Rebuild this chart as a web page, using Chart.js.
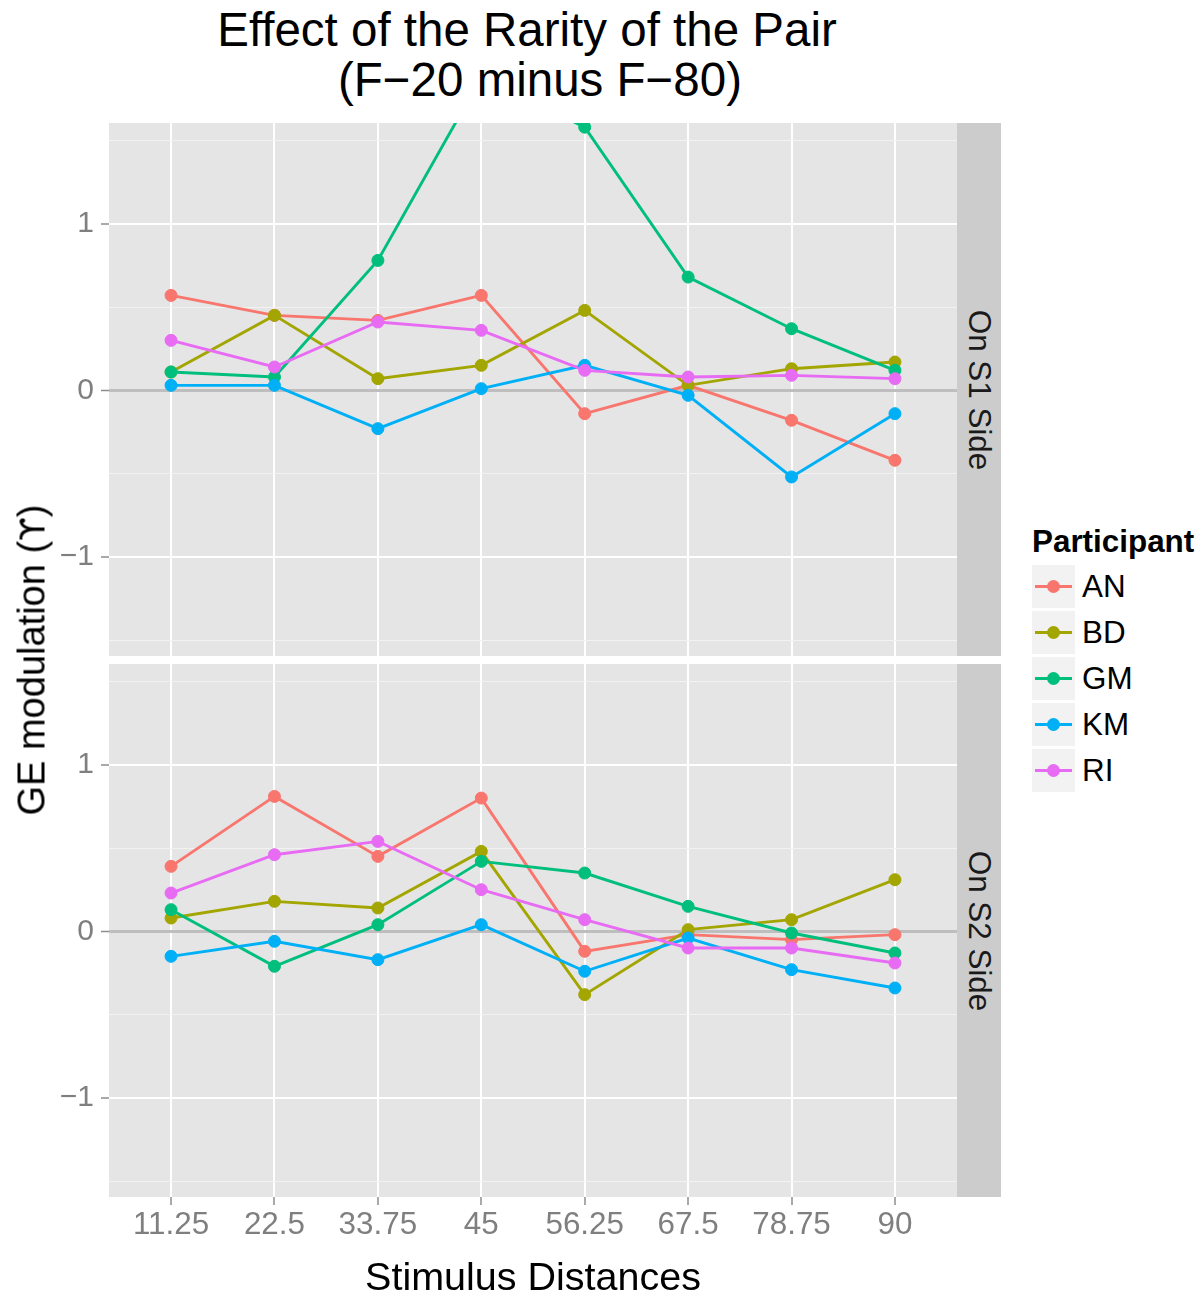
<!DOCTYPE html>
<html>
<head>
<meta charset="utf-8">
<title>Effect of the Rarity of the Pair</title>
<script src="https://cdn.jsdelivr.net/npm/chart.js@4.4.1/dist/chart.umd.min.js"></script>
<style>
  body { margin: 0; background: #ffffff; }
  #fig { position: relative; width: 1202px; height: 1295px; overflow: hidden;
         font-family: "Liberation Sans", Arial, Helvetica, sans-serif; color: #000; }
  .abs { position: absolute; white-space: nowrap; }
  .title { font-size: 47.5px; line-height: 47.5px; transform: translateX(-50%); }
  .strip { position: absolute; left: 957px; width: 44px; background: #CCCCCC; }
  .strip span { position: absolute; left: 50%; top: 50%; transform: translate(-50%, -50%) rotate(90deg);
                font-size: 31.4px; line-height: 31.4px; color: #1A1A1A; white-space: nowrap; }
  .key { position: absolute; left: 1032px; width: 43px; height: 43px; background: #F2F2F2; }
  .key .ln { position: absolute; left: 3px; width: 37px; top: 20px; height: 3px; }
  .key .pt { position: absolute; left: 15px; top: 15px; width: 13px; height: 13px; border-radius: 50%; }
  .klab { position: absolute; left: 1082px; height: 43px; line-height: 43px; font-size: 31.4px; }
  .sym { font-family: "DejaVu Sans", sans-serif; font-size: 34px; }
  canvas { position: absolute; left: 0; }
</style>
</head>
<body>
<div id="fig">
  <div class="abs title" style="left:527px;top:6px;">Effect of the Rarity of the Pair</div>
  <div class="abs title" style="left:540px;top:56px;">(F−20 minus F−80)</div>

  <canvas id="s1" width="957" height="533" style="top:123px;"></canvas>
  <canvas id="s2" width="957" height="593" style="top:664px;"></canvas>

  <div class="strip" style="top:123px;height:533px;"><span>On S1 Side</span></div>
  <div class="strip" style="top:664px;height:533px;"><span>On S2 Side</span></div>

  <div class="abs" style="left:32px;top:660px;font-size:38px;line-height:38px;transform:translate(-50%,-50%) rotate(-90deg);">GE modulation (<span class="sym">ϒ</span>)</div>
  <div class="abs" style="left:533px;top:1257px;font-size:39.5px;line-height:39.5px;transform:translateX(-50%);">Stimulus Distances</div>

  <div class="abs" style="left:1032px;top:526px;font-size:31.4px;line-height:31.4px;font-weight:bold;">Participant</div>
  <div id="legend"></div>
</div>

<script>
// Stimulus distance categories along the x axis
const distances = ['11.25', '22.5', '33.75', '45', '56.25', '67.5', '78.75', '90'];
const participants = ['AN', 'BD', 'GM', 'KM', 'RI'];
const colors = ['#F8766D', '#A3A500', '#00BF7D', '#00B0F6', '#E76BF3'];

// GE modulation, facet "On S1 Side"
const s1AN = [0.57, 0.45, 0.42, 0.57, -0.14, 0.03, -0.18, -0.42];
const s1BD = [0.11, 0.45, 0.07, 0.15, 0.48, 0.03, 0.13, 0.17];
const s1GM = [0.11, 0.08, 0.78, 1.88, 1.58, 0.68, 0.37, 0.12];
const s1KM = [0.03, 0.03, -0.23, 0.01, 0.15, -0.03, -0.52, -0.14];
const s1RI = [0.30, 0.14, 0.41, 0.36, 0.12, 0.08, 0.09, 0.07];

// GE modulation, facet "On S2 Side"
const s2AN = [0.39, 0.81, 0.45, 0.80, -0.12, -0.02, -0.05, -0.02];
const s2BD = [0.08, 0.18, 0.14, 0.48, -0.38, 0.01, 0.07, 0.31];
const s2GM = [0.13, -0.21, 0.04, 0.42, 0.35, 0.15, -0.01, -0.13];
const s2KM = [-0.15, -0.06, -0.17, 0.04, -0.24, -0.04, -0.23, -0.34];
const s2RI = [0.23, 0.46, 0.54, 0.25, 0.07, -0.10, -0.10, -0.19];

const yTickValues = [-1.5, -1, -0.5, 0, 0.5, 1, 1.5];

Chart.defaults.font.family = '"Liberation Sans", Arial, Helvetica, sans-serif';
Chart.defaults.font.size = 30;
Chart.defaults.color = '#7F7F7F';

// grey panel behind the grid
const panelBg = {
  id: 'panelBg',
  beforeDraw(chart) {
    const a = chart.chartArea, ctx = chart.ctx;
    ctx.save();
    ctx.fillStyle = '#E5E5E5';
    ctx.fillRect(a.left, a.top, a.right - a.left, a.bottom - a.top);
    ctx.restore();
  }
};

// lines underneath, points on top (later participants drawn above earlier ones)
function buildDatasets(series) {
  const out = [];
  series.forEach((vals, k) => {
    const pts = vals.map((v, i) => ({ x: i, y: v }));
    out.push({
      label: participants[k], data: pts, borderColor: colors[k], backgroundColor: colors[k],
      borderWidth: 2.9, pointRadius: 0, tension: 0, fill: false, clip: 0, order: 20 - k
    });
    out.push({
      label: participants[k], data: pts, showLine: false, borderColor: colors[k],
      backgroundColor: colors[k], pointBackgroundColor: colors[k], pointBorderColor: colors[k],
      pointBorderWidth: 1, pointRadius: 6, clip: 0, order: 10 - k
    });
  });
  return out;
}

function yScale() {
  return {
    type: 'linear', min: -1.595, max: 1.605,
    afterBuildTicks: s => { s.ticks = yTickValues.map(v => ({ value: v })); },
    afterFit: s => { s.width = 109; s.paddingTop = 0; s.paddingBottom = 0; },
    border: { display: false },
    grid: {
      color: c => c.tick.value === 0 ? '#BEBEBE' : (Number.isInteger(c.tick.value) ? '#FFFFFF' : '#F2F2F2'),
      lineWidth: c => c.tick.value === 0 ? 3 : (Number.isInteger(c.tick.value) ? 2 : 1),
      tickColor: c => Number.isInteger(c.tick.value) ? '#8C8C8C' : 'rgba(0,0,0,0)',
      tickWidth: 1.5, tickLength: 8, drawTicks: true
    },
    ticks: {
      padding: 7, color: '#7F7F7F', font: { size: 30 },
      callback: v => Number.isInteger(v) ? (v < 0 ? '\u2212' + Math.abs(v) : String(v)) : ''
    }
  };
}

function xScale(showLabels) {
  return {
    type: 'linear', min: -0.6, max: 7.6,
    afterBuildTicks: s => { s.ticks = distances.map((_, i) => ({ value: i })); },
    afterFit: s => { s.height = showLabels ? 60 : 0; s.paddingLeft = 0; s.paddingRight = 0; },
    border: { display: false },
    grid: { color: '#FFFFFF', lineWidth: 2, drawTicks: showLabels, tickColor: '#8C8C8C', tickWidth: 1.5, tickLength: 8 },
    ticks: {
      display: showLabels, padding: 2, maxRotation: 0, minRotation: 0, autoSkip: false,
      color: '#7F7F7F', font: { size: 31.4 },
      callback: v => distances[v] !== undefined ? distances[v] : ''
    }
  };
}

function makeChart(id, series, showLabels) {
  return new Chart(document.getElementById(id), {
    type: 'line',
    data: { datasets: buildDatasets(series) },
    options: {
      responsive: false, animation: false, devicePixelRatio: 1,
      layout: { padding: 0, autoPadding: false },
      plugins: { legend: { display: false }, tooltip: { enabled: false } },
      scales: { x: xScale(showLabels), y: yScale() }
    },
    plugins: [panelBg]
  });
}

makeChart('s1', [s1AN, s1BD, s1GM, s1KM, s1RI], false);
makeChart('s2', [s2AN, s2BD, s2GM, s2KM, s2RI], true);

// legend keys
const legend = document.getElementById('legend');
participants.forEach((p, k) => {
  const top = 565 + 46 * k;
  const key = document.createElement('div');
  key.className = 'key';
  key.style.top = top + 'px';
  key.innerHTML = '<div class="ln" style="background:' + colors[k] + '"></div>' +
                  '<div class="pt" style="background:' + colors[k] + '"></div>';
  legend.appendChild(key);
  const lab = document.createElement('div');
  lab.className = 'klab';
  lab.style.top = top + 'px';
  lab.textContent = p;
  legend.appendChild(lab);
});
</script>
</body>
</html>
